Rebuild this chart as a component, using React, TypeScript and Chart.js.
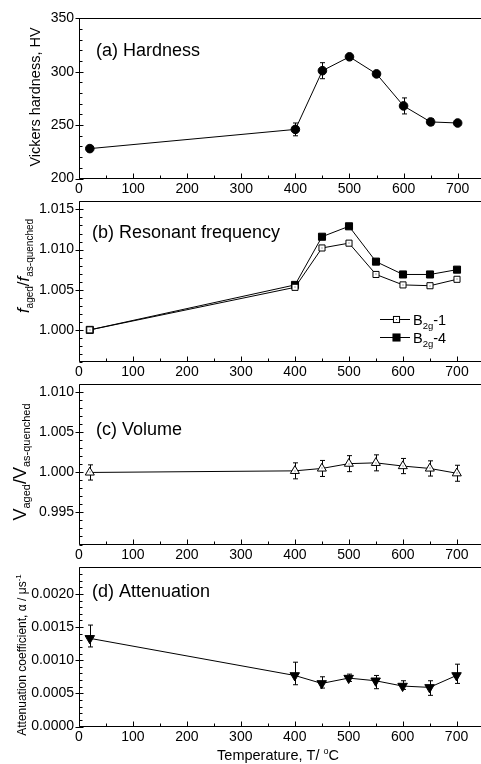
import React, { useEffect, useRef } from 'react';
import { Chart, registerables } from 'chart.js';

Chart.register(...registerables);

const FONT = '"Liberation Sans", Arial, Helvetica, sans-serif';

// ---------- data ----------
const temperatures = [20, 400, 450, 500, 550, 600, 650, 700];
const xTickValues = [0, 100, 200, 300, 400, 500, 600, 700];

const hardness = [228, 246, 301, 314, 298, 268, 253, 252];
const hardnessErr = [2, 6, 7.5, 3, 2, 7.5, 3, 1.5];
const hardnessTicks = [200, 250, 300, 350];

const freqB2g1 = [1.0, 1.0053, 1.0102, 1.0108, 1.0069, 1.0056, 1.0055, 1.0063];
const freqB2g4 = [1.0, 1.0056, 1.0116, 1.0129, 1.0085, 1.0069, 1.0069, 1.0075];
const freqTicks = [1.0, 1.005, 1.01, 1.015];

const volume = [1.0, 1.0002, 1.0005, 1.0011, 1.0012, 1.0008, 1.0005, 0.9999];
const volumeErr = [0.00095, 0.001, 0.001, 0.001, 0.001, 0.00095, 0.00095, 0.001];
const volumeTicks = [0.995, 1.0, 1.005, 1.01];

const attenuation = [0.00133, 0.00077, 0.00065, 0.00073, 0.00069, 0.00061, 0.00059, 0.00077];
const attenErrPlus = [0.0002, 0.0002, 0.0001, 0.00006, 0.00008, 0.00008, 0.0001, 0.00017];
const attenErrMinus = [0.00013, 0.00014, 0.00007, 0.00005, 0.00012, 0.00005, 0.00012, 0.00012];
const attenTicks = [0.0, 0.0005, 0.001, 0.0015, 0.002];

// ---------- layout ----------
const CW = 490;
const PLOT_RIGHT = 485;
const Y_AXIS_W = 79;

type Part = { text: string; size: number; italic?: boolean; dy?: number };

function drawRich(ctx: CanvasRenderingContext2D, parts: Part[], x: number, y: number, rotate: boolean, align: 'center' | 'left') {
  ctx.save();
  ctx.translate(x, y);
  if (rotate) ctx.rotate(-Math.PI / 2);
  const fontOf = (p: Part) => `${p.italic ? 'italic ' : ''}${p.size}px ${FONT}`;
  let total = 0;
  for (const p of parts) {
    ctx.font = fontOf(p);
    total += ctx.measureText(p.text).width;
  }
  let cx = align === 'center' ? -total / 2 : 0;
  ctx.textBaseline = 'alphabetic';
  ctx.textAlign = 'left';
  ctx.fillStyle = '#000';
  for (const p of parts) {
    ctx.font = fontOf(p);
    ctx.fillText(p.text, cx, p.dy || 0);
    cx += ctx.measureText(p.text).width;
  }
  ctx.restore();
}

type Panel = {
  key: string;
  top: number;
  bottom: number;
  yMin: number;
  yMax: number;
  yTicks: number[];
  yDecimals: number;
  yMinorStep: number;
  label: string;
  labelX: number;
  labelBase: number;
  datasets: any[];
  errors?: { plus: number[]; minus: number[] };
  title: { parts: Part[]; x: number; cy: number };
  legend?: boolean;
  xTitle?: boolean;
  openDots?: number[];
};

const pts = (vals: number[]) => temperatures.map((t, i) => ({ x: t, y: vals[i] }));

const lineBase = {
  borderColor: '#000',
  borderWidth: 1,
  pointBorderColor: '#000',
  pointBorderWidth: 1,
  tension: 0,
  clip: false,
};

const panels: Panel[] = [
  {
    key: 'a',
    top: 17,
    bottom: 178.5,
    yMin: 200,
    yMax: 350,
    yTicks: hardnessTicks,
    yDecimals: 0,
    yMinorStep: 10,
    label: '(a) Hardness',
    labelX: 96,
    labelBase: 56,
    datasets: [
      { ...lineBase, data: pts(hardness), pointStyle: 'circle', pointRadius: 4.3, pointBackgroundColor: '#000' },
    ],
    errors: { plus: hardnessErr, minus: hardnessErr },
    title: { parts: [{ text: 'Vickers hardness, HV', size: 14.5 }], x: 40, cy: 97 },
  },
  {
    key: 'b',
    top: 200.5,
    bottom: 362,
    yMin: 0.996,
    yMax: 1.016,
    yTicks: freqTicks,
    yDecimals: 3,
    yMinorStep: 0.001,
    label: '(b) Resonant frequency',
    labelX: 92,
    labelBase: 238,
    datasets: [
      { ...lineBase, data: pts(freqB2g1), pointStyle: 'rect', pointRadius: 4.3, pointBackgroundColor: '#fff' },
      { ...lineBase, data: pts(freqB2g4), pointStyle: 'rect', pointRadius: 5, pointBackgroundColor: '#000' },
    ],
    title: {
      parts: [
        { text: 'f', size: 17, italic: true },
        { text: 'aged', size: 10, dy: 4 },
        { text: '/', size: 17 },
        { text: 'f', size: 17, italic: true },
        { text: 'as-quenched', size: 10, dy: 4 },
      ],
      x: 29,
      cy: 266,
    },
    legend: true,
    openDots: [0],
  },
  {
    key: 'c',
    top: 383.5,
    bottom: 544.5,
    yMin: 0.991,
    yMax: 1.011,
    yTicks: volumeTicks,
    yDecimals: 3,
    yMinorStep: 0.001,
    label: '(c) Volume',
    labelX: 96,
    labelBase: 435,
    datasets: [
      { ...lineBase, data: pts(volume), pointStyle: 'triangle', pointRadius: 5.2, pointBackgroundColor: '#fff' },
    ],
    errors: { plus: volumeErr, minus: volumeErr },
    title: {
      parts: [
        { text: 'V', size: 18 },
        { text: 'aged', size: 11, dy: 4 },
        { text: '/', size: 18 },
        { text: 'V', size: 18 },
        { text: 'as-quenched', size: 11, dy: 4 },
      ],
      x: 26,
      cy: 462,
    },
    openDots: [0],
  },
  {
    key: 'd',
    top: 566,
    bottom: 726.5,
    yMin: 0,
    yMax: 0.0024,
    yTicks: attenTicks,
    yDecimals: 4,
    yMinorStep: 0.0001,
    label: '(d) Attenuation',
    labelX: 92,
    labelBase: 597,
    datasets: [
      {
        ...lineBase,
        data: pts(attenuation),
        pointStyle: 'triangle',
        pointRotation: 180,
        pointRadius: 5.5,
        pointBackgroundColor: '#000',
      },
    ],
    errors: { plus: attenErrPlus, minus: attenErrMinus },
    title: {
      parts: [
        { text: 'Attenuation coefficient, α / μs', size: 12 },
        { text: '-1', size: 8, dy: -5 },
      ],
      x: 26,
      cy: 655,
    },
    xTitle: true,
  },
];

function makePlugin(p: Panel, canvasTop: number) {
  const Y = (pageY: number) => pageY - canvasTop;
  return {
    id: 'decor' + p.key,
    beforeDatasetsDraw(chart: any) {
      if (!p.errors) return;
      const ctx: CanvasRenderingContext2D = chart.ctx;
      const xs = chart.scales.x;
      const ys = chart.scales.y;
      const vals = chart.data.datasets[0].data;
      ctx.save();
      ctx.strokeStyle = '#000';
      ctx.lineWidth = 1;
      vals.forEach((pt: any, i: number) => {
        const x = Math.round(xs.getPixelForValue(pt.x)) + 0.5;
        const yTop = ys.getPixelForValue(pt.y + p.errors!.plus[i]);
        const yBot = ys.getPixelForValue(pt.y - p.errors!.minus[i]);
        ctx.beginPath();
        ctx.moveTo(x, yTop);
        ctx.lineTo(x, yBot);
        ctx.moveTo(x - 2.5, yTop);
        ctx.lineTo(x + 2.5, yTop);
        ctx.moveTo(x - 2.5, yBot);
        ctx.lineTo(x + 2.5, yBot);
        ctx.stroke();
      });
      ctx.restore();
    },
    afterDraw(chart: any) {
      const ctx: CanvasRenderingContext2D = chart.ctx;
      const a = chart.chartArea;
      const xs = chart.scales.x;
      const ys = chart.scales.y;
      ctx.save();
      ctx.strokeStyle = '#000';
      ctx.lineWidth = 1;
      // frame
      const L = Math.round(a.left) + 0.5;
      const T = Math.round(a.top) + 0.5;
      const B = Math.round(a.bottom) - 0.5;
      const R = Math.round(a.right) - 0.5;
      ctx.beginPath();
      ctx.rect(L, T, R - L, B - T);
      ctx.stroke();
      // x ticks (inward)
      ctx.beginPath();
      for (const v of xTickValues) {
        const x = Math.round(xs.getPixelForValue(v)) + 0.5;
        ctx.moveTo(x, B);
        ctx.lineTo(x, B - 5);
      }
      for (let v = 50; v < 750; v += 100) {
        const x = Math.round(xs.getPixelForValue(v)) + 0.5;
        ctx.moveTo(x, B);
        ctx.lineTo(x, B - 3);
      }
      // y ticks
      for (const v of p.yTicks) {
        const y = Math.round(ys.getPixelForValue(v)) + 0.5;
        ctx.moveTo(L - 4, y);
        ctx.lineTo(L + 4, y);
      }
      const n = Math.round((p.yMax - p.yMin) / p.yMinorStep);
      for (let k = 0; k <= n; k++) {
        const v = p.yMin + k * p.yMinorStep;
        if (p.yTicks.some((t) => Math.abs(t - v) < p.yMinorStep / 10)) continue;
        const y = Math.round(ys.getPixelForValue(v)) + 0.5;
        ctx.moveTo(L, y);
        ctx.lineTo(L + 3, y);
      }
      ctx.stroke();

      // centre dots in open markers
      if (p.openDots) {
        ctx.fillStyle = '#555';
        for (const di of p.openDots) {
          const meta = chart.getDatasetMeta(di);
          meta.data.forEach((el: any) => {
            ctx.fillRect(Math.round(el.x) - 0.5, Math.round(el.y) - 0.5, 1, 1);
          });
        }
      }

      // panel label
      ctx.fillStyle = '#000';
      ctx.font = `18px ${FONT}`;
      ctx.textAlign = 'left';
      ctx.textBaseline = 'alphabetic';
      ctx.fillText(p.label, p.labelX, Y(p.labelBase));

      // y title
      drawRich(ctx, p.title.parts, p.title.x, Y(p.title.cy), true, 'center');

      // legend
      if (p.legend) {
        const rows = [
          { y: 319, fill: '#fff', r: 4.3, name: '-1' },
          { y: 337, fill: '#000', r: 5, name: '-4' },
        ];
        for (const row of rows) {
          const yy = Math.round(Y(row.y)) + 0.5;
          ctx.beginPath();
          ctx.moveTo(380, yy);
          ctx.lineTo(410, yy);
          ctx.stroke();
          const s = row.r * Math.SQRT1_2;
          ctx.fillStyle = row.fill;
          ctx.fillRect(396.5 - s, yy - s, 2 * s, 2 * s);
          ctx.strokeRect(396.5 - s, yy - s, 2 * s, 2 * s);
          if (row.fill === '#fff') {
            ctx.fillStyle = '#555';
            ctx.fillRect(396, yy - 0.5, 1, 1);
          }
          drawRich(
            ctx,
            [
              { text: 'B', size: 14.5 },
              { text: '2g', size: 9.5, dy: 4 },
              { text: row.name, size: 14.5 },
            ],
            413,
            yy + 5,
            false,
            'left'
          );
        }
      }

      // x title
      if (p.xTitle) {
        drawRich(
          ctx,
          [
            { text: 'Temperature, T/ ', size: 14.5 },
            { text: 'o', size: 9, dy: -6 },
            { text: 'C', size: 14.5 },
          ],
          278,
          Y(760),
          false,
          'center'
        );
      }
      ctx.restore();
    },
  };
}

function PanelChart({ p }: { p: Panel }) {
  const ref = useRef<HTMLCanvasElement>(null);
  const canvasTop = Math.floor(p.top) - 12;
  const padTop = p.top - canvasTop;
  const H = Math.ceil(p.bottom - canvasTop) + 40;
  const xAxisH = H - (p.bottom - canvasTop);

  useEffect(() => {
    if (!ref.current) return;
    const chart = new Chart(ref.current, {
      type: 'line',
      data: { datasets: p.datasets },
      options: {
        responsive: false,
        animation: false,
        devicePixelRatio: 1,
        events: [],
        layout: { padding: { top: padTop, left: 0, right: CW - PLOT_RIGHT, bottom: 0 } },
        plugins: { legend: { display: false }, tooltip: { enabled: false } },
        scales: {
          x: {
            type: 'linear',
            min: 0,
            max: 750,
            afterBuildTicks: (s: any) => {
              s.ticks = xTickValues.map((v) => ({ value: v }));
            },
            afterFit: (s: any) => {
              s.height = xAxisH;
            },
            grid: { display: false, drawTicks: false },
            border: { display: false },
            ticks: {
              autoSkip: false,
              maxRotation: 0,
              padding: 2,
              color: '#000',
              font: { family: FONT, size: 14 },
              callback: (v: any) => String(v),
            },
          },
          y: {
            type: 'linear',
            min: p.yMin,
            max: p.yMax,
            afterBuildTicks: (s: any) => {
              s.ticks = p.yTicks.map((v) => ({ value: v }));
            },
            afterFit: (s: any) => {
              s.width = Y_AXIS_W;
            },
            grid: { display: false, drawTicks: false },
            border: { display: false },
            ticks: {
              autoSkip: false,
              padding: 5,
              color: '#000',
              font: { family: FONT, size: 14 },
              callback: (v: any) => Number(v).toFixed(p.yDecimals),
            },
          },
        },
      } as any,
      plugins: [makePlugin(p, canvasTop)],
    });
    return () => chart.destroy();
  }, []);

  return (
    <canvas
      ref={ref}
      width={CW}
      height={H}
      style={{ position: 'absolute', left: 0, top: canvasTop, width: CW, height: H }}
    />
  );
}

export default function App() {
  return (
    <div
      style={{
        position: 'fixed',
        left: 0,
        top: 0,
        width: 481,
        height: 764,
        overflow: 'hidden',
        background: '#fff',
      }}
    >
      {panels.map((p) => (
        <PanelChart key={p.key} p={p} />
      ))}
    </div>
  );
}
